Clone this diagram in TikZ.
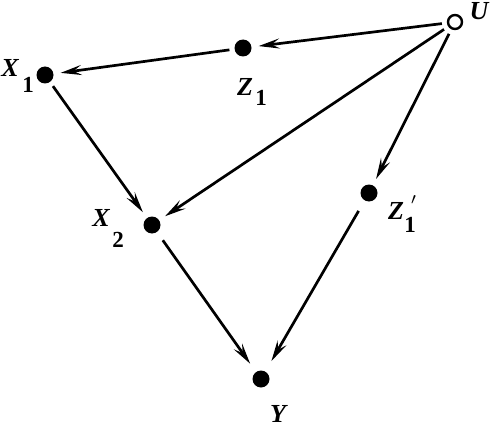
\documentclass[tikz,border=0pt]{standalone}
\usepackage{fontspec}
\setmainfont{Liberation Serif}
\usetikzlibrary{arrows.meta}
\begin{document}
\begin{tikzpicture}[x=1pt,y=-1pt,
  dot/.style={circle,fill=black,inner sep=0pt,minimum size=17pt},
  odot/.style={circle,draw=black,line width=2.4pt,fill=white,inner sep=0pt,minimum size=14pt},
  edge/.style={line width=2.7pt,-{Stealth[length=21pt,width=10pt,inset=8pt]},shorten <=5pt,shorten >=7pt},
  lab/.style={font=\bfseries\itshape,scale=2.6,inner sep=0pt},
  sub/.style={font=\bfseries,scale=2.3,inner sep=0pt}]
\useasboundingbox (0,0) rectangle (490,428);
\node[odot] (U) at (455,22) {};
\node[dot] (Z1) at (243,48) {};
\node[dot] (X1) at (45,75) {};
\node[dot] (X2) at (152,225) {};
\node[dot] (Z1p) at (369,193) {};
\node[dot] (Y) at (261,379) {};
% labels
\node[lab] (lU) at (479,11) {U};
\node[lab] (lZ1) at (245,87) {Z};
\node[sub] (sZ1) at (261,98) {1};
\node[lab] (lX1) at (10,68) {X};
\node[sub] (sX1) at (28,85) {1};
\node[lab] (lX2) at (101,218) {X};
\node[sub] (sX2) at (118,240) {2};
\node[lab] (lZ1p) at (396,211) {Z};
\node[sub] (sZ1p) at (410,225) {1};
\node[sub] (pZ1p) at (414,204) {$'$};
\node[lab] (lY) at (278,414) {Y};
% edges
\draw[edge] (U) -- (Z1);
\draw[edge] (Z1) -- (X1);
\draw[edge] (X1) -- (X2);
\draw[edge] (U) -- (X2);
\draw[edge] (U) -- (Z1p);
\draw[edge,shorten <=12pt,shorten >=12pt] (Z1p) -- (Y);
\draw[edge,shorten <=10pt,shorten >=10pt] (X2) -- (Y);
\end{tikzpicture}
\end{document}
